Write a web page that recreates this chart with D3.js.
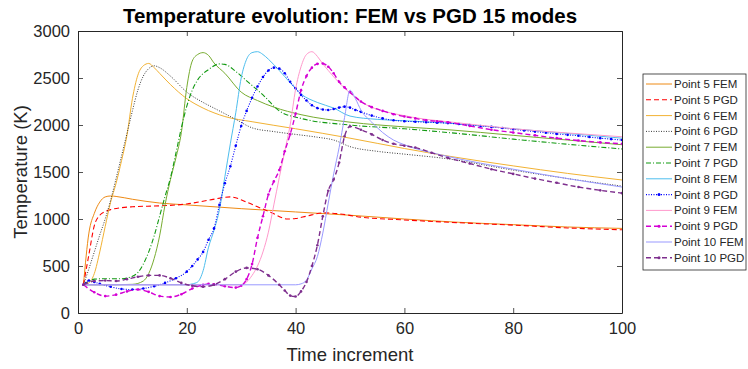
<!DOCTYPE html>
<html lang="en">
<head>
<meta charset="UTF-8"/>
<title>Temperature evolution</title>
<script src="https://d3js.org/d3.v7.min.js"></script>
<style>
    body { margin: 0; background: #fff; }
    text { font-family: "Liberation Sans", Arial, Helvetica, sans-serif; fill: #262626; }
    .line { fill: none; }
</style>
</head>
<body>
<div id="chart"></div>
<script>
// series names (legend order)
var names = ["Point 5 FEM", "Point 5 PGD", "Point 6 FEM", "Point 6 PGD",
             "Point 7 FEM", "Point 7 PGD", "Point 8 FEM", "Point 8 PGD",
             "Point 9 FEM", "Point 9 PGD", "Point 10 FEM", "Point 10 PGD"];

var xTicks = [0, 20, 40, 60, 80, 100];
var yTicks = [0, 500, 1000, 1500, 2000, 2500, 3000];

// [time increment, temperature K]
var p5fem = [[1,300],[2,850],[3,1060],[4,1180],[5,1235],[6,1245],[7,1240],[10,1210],[15,1170],[20,1150],[30,1110],[40,1075],[50,1040],[60,1000],[70,965],[80,940],[90,915],[100,900]];
var p5pgd = [[1,300],[2,620],[3,930],[4,1040],[5,1080],[6,1100],[8,1120],[10,1130],[15,1140],[20,1160],[24,1200],[28,1235],[31,1180],[33,1130],[35.5,1070],[38.5,1000],[40,1005],[42,1030],[45,1065],[48,1055],[52,1020],[60,990],[70,960],[80,935],[90,905],[100,885]];
var p6fem = [[1,300],[2,320],[3,420],[4,650],[5,920],[6,1180],[7,1380],[8,1620],[9,1890],[10,2280],[11,2530],[12,2630],[13,2655],[14,2610],[15,2550],[17,2430],[20,2280],[23,2180],[27,2090],[32,2035],[40,1960],[50,1860],[60,1750],[68,1670],[80,1565],[90,1485],[100,1415]];
var p6pgd = [[1,300],[2,470],[3,650],[4,830],[5,1000],[6,1200],[7,1430],[8,1670],[9,1910],[10,2150],[11,2370],[12,2520],[13,2600],[14,2630],[15,2610],[17,2520],[20,2350],[23,2240],[25,2180],[29,2060],[32,1970],[36,1930],[40,1900],[44,1870],[47,1840],[50,1770],[55,1720],[60,1690],[68,1640],[80,1520],[90,1430],[100,1350]];
var p7fem = [[1,300],[5,300],[10,305],[12,340],[13,420],[14,580],[15,820],[16,1150],[17,1420],[18,1650],[19,1920],[20,2400],[21,2680],[22,2750],[23,2770],[24,2740],[25,2660],[27,2550],[30,2350],[33,2260],[36,2190],[41,2110],[50,2030],[60,1980],[68,1950],[80,1890],[90,1840],[100,1790]];
var p7pgd = [[1,300],[2,340],[3,360],[5,365],[8,365],[10,390],[11,430],[12,520],[13,650],[14,820],[15,1030],[16,1240],[17,1440],[18,1700],[19,1970],[20,2200],[21,2370],[22,2480],[24,2590],[26,2650],[27,2645],[29,2570],[31,2470],[34,2320],[37,2150],[41,2070],[50,2000],[60,1960],[68,1920],[80,1850],[90,1795],[100,1745]];
var p8fem = [[1,300],[20,300],[21,310],[22,330],[23,450],[24,700],[25,880],[26,1100],[27,1450],[28,1800],[29,2130],[30,2500],[31,2700],[32,2770],[33,2780],[34,2750],[35,2700],[37,2580],[39,2450],[41,2330],[44,2240],[47,2180],[50,2095],[55,2060],[60,2045],[68,2020],[80,1960],[90,1910],[100,1860]];
var p8pgd = [[1,300],[2,345],[3,330],[4,310],[6,280],[8,255],[10,250],[12,260],[14,285],[16,320],[18,370],[20,440],[21,500],[22,570],[23,650],[24,780],[25,900],[26,1150],[27,1380],[28,1560],[29,1780],[30,1990],[31,2150],[32,2290],[33,2410],[34,2510],[35,2580],[36,2610],[37,2600],[38,2550],[39,2460],[40,2390],[41,2320],[42,2260],[43,2210],[44,2180],[45,2165],[46,2160],[47,2170],[48,2185],[49,2195],[50,2185],[51,2160],[52,2140],[54,2100],[56,2070],[58,2050],[60,2040],[62,2035],[64,2030],[66,2025],[68,2020],[70,2010],[72,2000],[74,1990],[76,1980],[78,1968],[80,1955],[82,1942],[84,1930],[86,1918],[88,1905],[90,1895],[92,1885],[94,1872],[96,1860],[98,1850],[100,1840]];
var p9fem = [[1,300],[30,300],[31,330],[32,400],[33,500],[34,650],[35,860],[36,1150],[37,1440],[38,1720],[39,2000],[40,2380],[41,2620],[42,2750],[43,2780],[44,2730],[45,2650],[46,2580],[48,2450],[50,2340],[53,2215],[56,2150],[59,2110],[64,2060],[68,2035],[80,1960],[90,1915],[100,1875]];
var p9pgd = [[1,300],[3,220],[5,180],[7,195],[9,230],[11,250],[13,225],[15,180],[17,170],[19,200],[21,260],[23,300],[24,310],[25,305],[27,285],[29,270],[30,290],[31,360],[32,520],[33,800],[34,1030],[35,1260],[36,1400],[37,1520],[38,1720],[39,1900],[40,2120],[41,2370],[42,2520],[43,2610],[44,2650],[45,2655],[46,2620],[47,2550],[48,2460],[49,2400],[50,2350],[52,2250],[54,2190],[56,2150],[58,2115],[60,2090],[62,2070],[64,2050],[66,2040],[68,2030],[72,1990],[76,1950],[80,1920],[84,1890],[88,1860],[92,1835],[96,1815],[100,1800]];
var p10fem = [[1,300],[40,300],[41,310],[42,350],[43,470],[44,600],[45,850],[46,1170],[47,1480],[48,1760],[49,2080],[50,2370],[51,2280],[52,2160],[54,2030],[56,1920],[58,1840],[60,1790],[62,1750],[65,1705],[68,1665],[80,1530],[90,1430],[100,1340]];
var p10pgd = [[1,300],[3,340],[5,345],[7,340],[9,360],[11,385],[13,400],[15,400],[17,370],[19,320],[21,290],[23,280],[25,300],[27,360],[29,440],[31,480],[33,465],[35,400],[37,300],[38,240],[39,185],[40,175],[41,230],[42,330],[43,500],[44,720],[45,1030],[46,1300],[47,1420],[48,1600],[49,1880],[50,1985],[52,1950],[54,1900],[56,1840],[58,1800],[60,1780],[62,1760],[65,1705],[68,1650],[72,1590],[76,1530],[80,1480],[84,1430],[88,1385],[92,1340],[96,1305],[100,1275]];

var series = [p5fem, p5pgd, p6fem, p6pgd, p7fem, p7pgd, p8fem, p8pgd, p9fem, p9pgd, p10fem, p10pgd];

// look of each series
var colors = ["#EE8A14", "#FF0000", "#F2B233", "#262626", "#77AC30", "#119911",
              "#4DBEEE", "#0000FF", "#FF99CC", "#D400D4", "#9999FF", "#7E2F8E"];
var dashes = [null, "5,3", null, "1,1.5", null, "5,2,1,2", null, "1,1.5", null, "5,3", null, "5,3"];
var widths = [1, 1.1, 1, 0.9, 1, 1.1, 1, 1.1, 1, 1.4, 1, 1.4];
var marks  = [false, false, false, false, false, false, false, true, false, true, false, true];

var w = 748, h = 369;
var padL = 78, padR = 622, padT = 31, padB = 313;

var svg = d3.select("#chart").append("svg")
    .attr("width", w).attr("height", h);

var xScale = d3.scaleLinear().domain([0, 100]).range([padL, padR]);
var yScale = d3.scaleLinear().domain([0, 3000]).range([padB, padT]);

var axisColor = "#262626";
var tickLen = 5;

// axes (box on, ticks inward)
var gx = svg.append("g")
    .attr("transform", `translate(0, ${padB})`)
    .call(d3.axisBottom(xScale).tickValues(xTicks).tickFormat(d3.format("d"))
        .tickSize(-tickLen).tickPadding(tickLen + 4).tickSizeOuter(0));
var gxt = svg.append("g")
    .attr("transform", `translate(0, ${padT})`)
    .call(d3.axisTop(xScale).tickValues(xTicks).tickSize(-tickLen).tickFormat("").tickSizeOuter(0));
var gy = svg.append("g")
    .attr("transform", `translate(${padL}, 0)`)
    .call(d3.axisLeft(yScale).tickValues(yTicks).tickFormat(d3.format("d"))
        .tickSize(-tickLen).tickPadding(tickLen + 3).tickSizeOuter(0));
var gyr = svg.append("g")
    .attr("transform", `translate(${padR}, 0)`)
    .call(d3.axisRight(yScale).tickValues(yTicks).tickSize(-tickLen).tickFormat("").tickSizeOuter(0));

[gx, gxt, gy, gyr].forEach(function(g) {
    g.selectAll("path").attr("stroke", axisColor).attr("stroke-width", 1);
    g.selectAll("line").attr("stroke", axisColor).attr("stroke-width", 0.8);
    g.selectAll("text").attr("font-size", 16.5).attr("fill", axisColor)
        .style("font-family", "'Liberation Sans', Arial, sans-serif");
});

// clip to plot area
svg.append("clipPath").attr("id", "plot")
    .append("rect").attr("x", padL).attr("y", padT)
    .attr("width", padR - padL).attr("height", padB - padT);

var line = d3.line()
    .x(d => xScale(d[0]))
    .y(d => yScale(d[1]))
    .curve(d3.curveMonotoneX);

var plot = svg.append("g").attr("clip-path", "url(#plot)");

series.forEach(function(data, i) {
    plot.append("path")
        .datum(data)
        .attr("class", "line")
        .attr("stroke", colors[i])
        .attr("stroke-width", widths[i])
        .attr("stroke-dasharray", dashes[i])
        .attr("d", line);
    if (marks[i]) {
        plot.selectAll(null)
            .data(data)
            .enter().append("circle")
            .attr("cx", d => xScale(d[0]))
            .attr("cy", d => yScale(d[1]))
            .attr("r", 1.3)
            .attr("fill", colors[i]);
    }
});

// labels
svg.append("text")
    .attr("x", (padL + padR) / 2).attr("y", 23)
    .attr("text-anchor", "middle")
    .attr("font-size", 20.5).attr("font-weight", "bold")
    .style("fill", "#000")
    .text("Temperature evolution: FEM vs PGD 15 modes");

svg.append("text")
    .attr("x", (padL + padR) / 2).attr("y", 361)
    .attr("text-anchor", "middle")
    .attr("font-size", 18.5)
    .text("Time increment");

svg.append("text")
    .attr("transform", `translate(27, ${(padT + padB) / 2}) rotate(-90)`)
    .attr("text-anchor", "middle")
    .attr("font-size", 18.5)
    .text("Temperature (K)");

// legend
var lgX = 643, lgY = 74, rowH = 15.8;
var legend = svg.append("g");
legend.append("rect")
    .attr("x", lgX).attr("y", lgY)
    .attr("width", 103).attr("height", 196)
    .attr("fill", "#fff").attr("stroke", axisColor).attr("stroke-width", 0.8);

names.forEach(function(name, i) {
    var cy = lgY + 10 + i * rowH;
    legend.append("line")
        .attr("x1", lgX + 3).attr("x2", lgX + 29)
        .attr("y1", cy).attr("y2", cy)
        .attr("stroke", colors[i])
        .attr("stroke-width", widths[i])
        .attr("stroke-dasharray", dashes[i]);
    if (marks[i]) {
        legend.append("circle")
            .attr("cx", lgX + 16).attr("cy", cy).attr("r", 1.5)
            .attr("fill", colors[i]);
    }
    legend.append("text")
        .attr("x", lgX + 31).attr("y", cy + 4)
        .attr("font-size", 11.5)
        .text(name);
});
</script>
</body>
</html>
